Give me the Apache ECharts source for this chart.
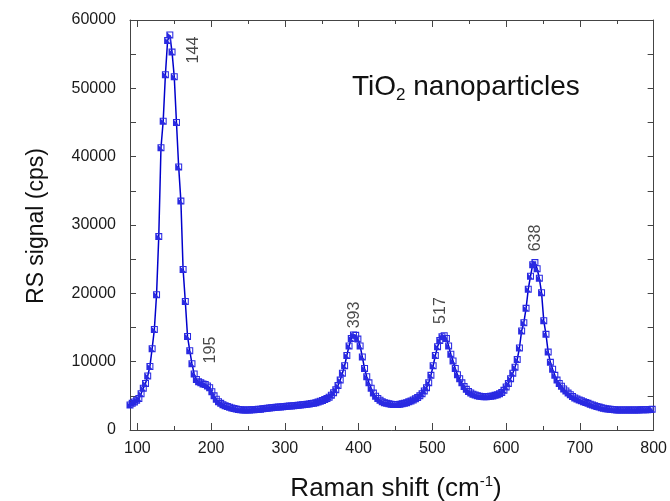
<!DOCTYPE html>
<html>
<head>
<meta charset="utf-8">
<script src="https://cdn.jsdelivr.net/npm/echarts@6/dist/echarts.min.js"></script>
<style>html,body{margin:0;padding:0;background:#fff}#c{width:670px;height:501px}</style>
</head>
<body>
<div id="c"></div>
<script>
// Raman shift (cm-1) sample positions
const ramanShift = [
90,93,96,99,102,105,108,111,114,117,
120,123,126,129,132,135,138,141,144,147,
150,153,156,159,162,165,168,171,174,177,
180,183,186,189,192,195,198,201,204,207,
210,213,216,219,222,225,228,231,234,237,
240,243,246,249,252,255,258,261,264,267,
270,273,276,279,282,285,288,291,294,297,
300,303,306,309,312,315,318,321,324,327,
330,333,336,339,342,345,348,351,354,357,
360,363,366,369,372,375,378,381,384,387,
390,393,396,399,402,405,408,411,414,417,
420,423,426,429,432,435,438,441,444,447,
450,453,456,459,462,465,468,471,474,477,
480,483,486,489,492,495,498,501,504,507,
510,513,516,519,522,525,528,531,534,537,
540,543,546,549,552,555,558,561,564,567,
570,573,576,579,582,585,588,591,594,597,
600,603,606,609,612,615,618,621,624,627,
630,633,636,639,642,645,648,651,654,657,
660,663,666,669,672,675,678,681,684,687,
690,693,696,699,702,705,708,711,714,717,
720,723,726,729,732,735,738,741,744,747,
750,753,756,759,762,765,768,771,774,777,
780,783,786,789,792,795,798
];
// RS signal (cps)
const rsSignal = [
3650,3900,4100,4350,4600,5300,6100,6800,7900,9300,
11900,14700,19800,28300,41300,45200,52000,57000,57800,55300,
51700,45000,38500,33500,23500,18800,13700,11600,9700,8200,
7400,7050,6900,6750,6650,6450,6200,5600,5000,4500,
4150,3900,3700,3550,3430,3330,3230,3140,3070,3010,
2970,2940,2930,2930,2940,2950,2970,3000,3020,3050,
3100,3140,3180,3220,3260,3290,3320,3350,3380,3400,
3430,3460,3500,3530,3560,3590,3620,3650,3690,3730,
3780,3820,3870,3930,4000,4100,4200,4330,4470,4620,
4800,5100,5450,5900,6500,7300,8300,9400,10900,12300,
13400,13900,13850,13300,12300,10700,9000,7800,6900,6100,
5400,4950,4600,4350,4150,4000,3900,3830,3780,3750,
3740,3750,3780,3830,3900,4000,4120,4250,4400,4560,
4750,5000,5300,5700,6200,6900,8000,9400,10900,12200,
13100,13650,13800,13400,12300,11100,10100,9000,8100,7500,
6900,6350,5950,5650,5420,5250,5120,5020,4950,4900,
4870,4870,4890,4930,4990,5070,5150,5300,5500,5800,
6300,6800,7500,8300,9200,10300,12000,14500,15700,17800,
20600,22500,24200,24500,23600,22200,20100,16000,14000,11400,
9900,8900,8000,7300,6800,6400,6000,5700,5400,5150,
4900,4700,4550,4400,4270,4150,4030,3900,3780,3660,
3550,3450,3350,3250,3180,3110,3060,3020,2990,2960,
2940,2930,2930,2930,2930,2920,2920,2920,2930,2930,
2940,2950,2960,2970,2980,3000,3020
];
// axis ticks
const xMajorTicks = [100,200,300,400,500,600,700,800];
const xMinorTicks = [150,250,350,450,550,650,750];
// peak annotations (label text and anchor in data coords)
const peakNames = ['144','195','393','517','638'];
const peakAnchorX = [176.4,199.3,395,511,640];
const peakAnchorY = [55600,11700,16830,17480,28100];

const FONT = 'Arial, "Liberation Sans", sans-serif';
const AXC = '#444';
const TXT = '#1a1a1a';
const chart = echarts.init(document.getElementById('c'), null, {renderer:'canvas'});

const lineData = ramanShift.map((x,i)=>[x, rsSignal[i]]);
const peakData = peakNames.map((n,i)=>({name:n, value:[peakAnchorX[i], peakAnchorY[i]]}));

const baseX = {type:'value', min:90, max:800, gridIndex:0, splitLine:{show:false}};
const symbolPath = 'path://M0,0L10,0L10,10L0,10Z M1.5,1.5L1.5,8.5L8.5,8.5L8.5,1.5Z M1.5,1.5L8.5,8.5L1.5,8.5Z';

chart.setOption({
  animation:false,
  backgroundColor:'#fff',
  grid:{left:130, right:14, top:20, bottom:71, containLabel:false},
  xAxis:[
    Object.assign({}, baseX, {position:'bottom',
      axisLine:{show:true, lineStyle:{color:AXC, width:1}},
      axisTick:{show:true, inside:true, length:7, customValues:xMajorTicks, lineStyle:{color:AXC}},
      axisLabel:{show:true, customValues:xMajorTicks, margin:11, fontSize:16, color:TXT, fontFamily:FONT}}),
    Object.assign({}, baseX, {position:'bottom',
      axisLine:{show:false},
      axisTick:{show:true, inside:true, length:4, customValues:xMinorTicks, lineStyle:{color:AXC}},
      axisLabel:{show:false}}),
    Object.assign({}, baseX, {position:'top',
      axisLine:{show:true, lineStyle:{color:AXC, width:1}},
      axisTick:{show:true, inside:true, length:7, customValues:xMajorTicks, lineStyle:{color:AXC}},
      axisLabel:{show:false}}),
    Object.assign({}, baseX, {position:'top',
      axisLine:{show:false},
      axisTick:{show:true, inside:true, length:4, customValues:xMinorTicks, lineStyle:{color:AXC}},
      axisLabel:{show:false}})
  ],
  yAxis:[
    {type:'value', min:0, max:60000, interval:10000, position:'left',
      splitLine:{show:false},
      axisLine:{show:true, lineStyle:{color:AXC, width:1}},
      axisTick:{show:true, inside:true, length:6, lineStyle:{color:AXC}},
      minorTick:{show:true, splitNumber:2, length:6, lineStyle:{color:AXC}},
      axisLabel:{margin:14, fontSize:16, color:TXT, fontFamily:FONT, formatter:(v)=>String(v)}},
    {type:'value', min:0, max:60000, interval:10000, position:'right',
      splitLine:{show:false},
      axisLine:{show:true, lineStyle:{color:AXC, width:1}},
      axisTick:{show:true, inside:true, length:6, lineStyle:{color:AXC}},
      minorTick:{show:true, splitNumber:2, length:6, lineStyle:{color:AXC}},
      axisLabel:{show:false}}
  ],
  series:[
    {type:'line', data:lineData, xAxisIndex:0, yAxisIndex:0,
      lineStyle:{color:'#0000cc', width:1.5},
      symbol:symbolPath, symbolSize:7, showAllSymbol:true,
      itemStyle:{color:'#2a2ae2'}, z:3},
    {type:'scatter', data:peakData, xAxisIndex:0, yAxisIndex:0,
      symbol:'rect', symbolSize:1, itemStyle:{color:'rgba(0,0,0,0)'}, silent:true,
      label:{show:true, position:'inside', rotate:90, formatter:'{b}',
        fontSize:16, color:TXT, fontFamily:FONT}, z:4}
  ],
  graphic:[
    {type:'text', x:352, y:70, style:{
      text:'{m|TiO}{s|2}{m| nanoparticles}',
      rich:{m:{fontSize:28, fontFamily:FONT, fill:'#111', lineHeight:34, verticalAlign:'middle'},
            s:{fontSize:17, fontFamily:FONT, fill:'#111', lineHeight:34, verticalAlign:'bottom'}}}},
    {type:'text', x:37, y:226, rotation:Math.PI/2, style:{
      text:'RS signal (cps)', font:'23px ' + FONT, fill:'#111', textAlign:'center', textVerticalAlign:'middle'}},
    {type:'text', x:396, y:489, style:{
      text:'{m|Raman shift (cm}{p|-1}{m|)}', textAlign:'center', textVerticalAlign:'middle',
      rich:{m:{fontSize:26, fontFamily:FONT, fill:'#111', lineHeight:30, verticalAlign:'middle'},
            p:{fontSize:15, fontFamily:FONT, fill:'#111', lineHeight:30, verticalAlign:'top'}}}}
  ]
});
</script>
</body>
</html>
